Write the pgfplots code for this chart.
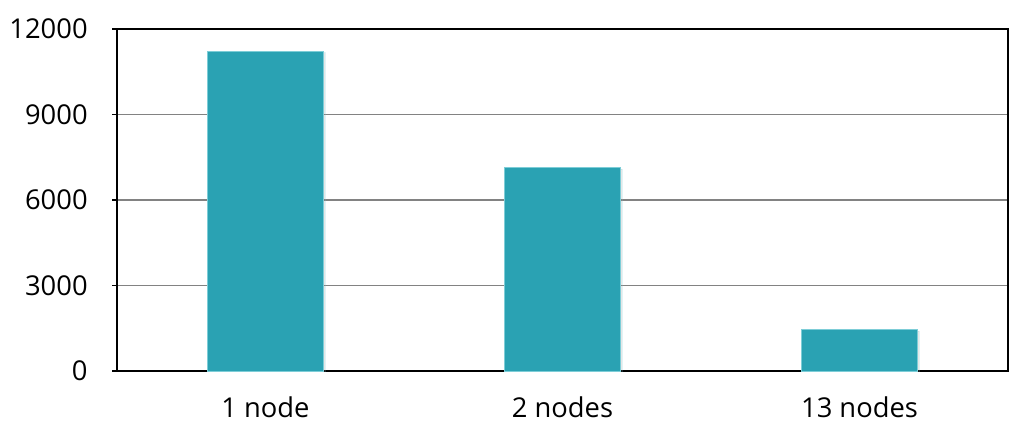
\documentclass[border=0pt]{standalone}
\usepackage{pgfplots}
\pgfplotsset{compat=1.18}
\usepackage{fontspec}
\setmainfont{Open Sans}
\usetikzlibrary{shadows}
\definecolor{barteal}{RGB}{42,162,179}
\definecolor{baredge}{RGB}{125,205,215}
\definecolor{gridgray}{RGB}{130,130,130}
\begin{document}
\begin{tikzpicture}
\useasboundingbox (0,0) rectangle (768pt,327pt);
\begin{axis}[
    at={(87.75pt,48.75pt)}, anchor=south west,
    scale only axis,
    width=668.25pt, height=256.5pt,
    ybar, bar width=87.5pt,
    xmin=-0.5, xmax=2.5,
    ymin=0, ymax=12000,
    ytick={0,3000,6000,9000,12000},
    ymajorgrids, grid style={gridgray, line width=0.9pt},
    xtick={0,1,2},
    xticklabels={1 node, 2 nodes, 13 nodes},
    xtick pos=bottom, ytick pos=left,
    tick align=outside,
    major tick length=3.5pt,
    x tick style={draw=none},
    extra x ticks={-0.5,0.5,1.5,2.5},
    extra x tick labels={},
    extra x tick style={grid=none, tick style={draw=black, line width=0.9pt}},
    y tick style={draw=black, line width=0.9pt},
    axis line style={line width=1.1pt},
    scaled y ticks=false,
    /pgf/number format/assume math mode=true,
    /pgf/number format/set thousands separator={},
    ticklabel style={font=\fontsize{20.5}{24}\selectfont},
    yticklabel style={xshift=-15pt},
    xticklabel style={yshift=-12pt},
]
\addplot[fill=barteal, draw=baredge, line width=0.6pt,
  drop shadow={opacity=0.2, shadow xshift=1pt, shadow yshift=-1pt}]
  coordinates {(0,11220) (1,7130) (2,1450)};
\end{axis}
\end{tikzpicture}
\end{document}
